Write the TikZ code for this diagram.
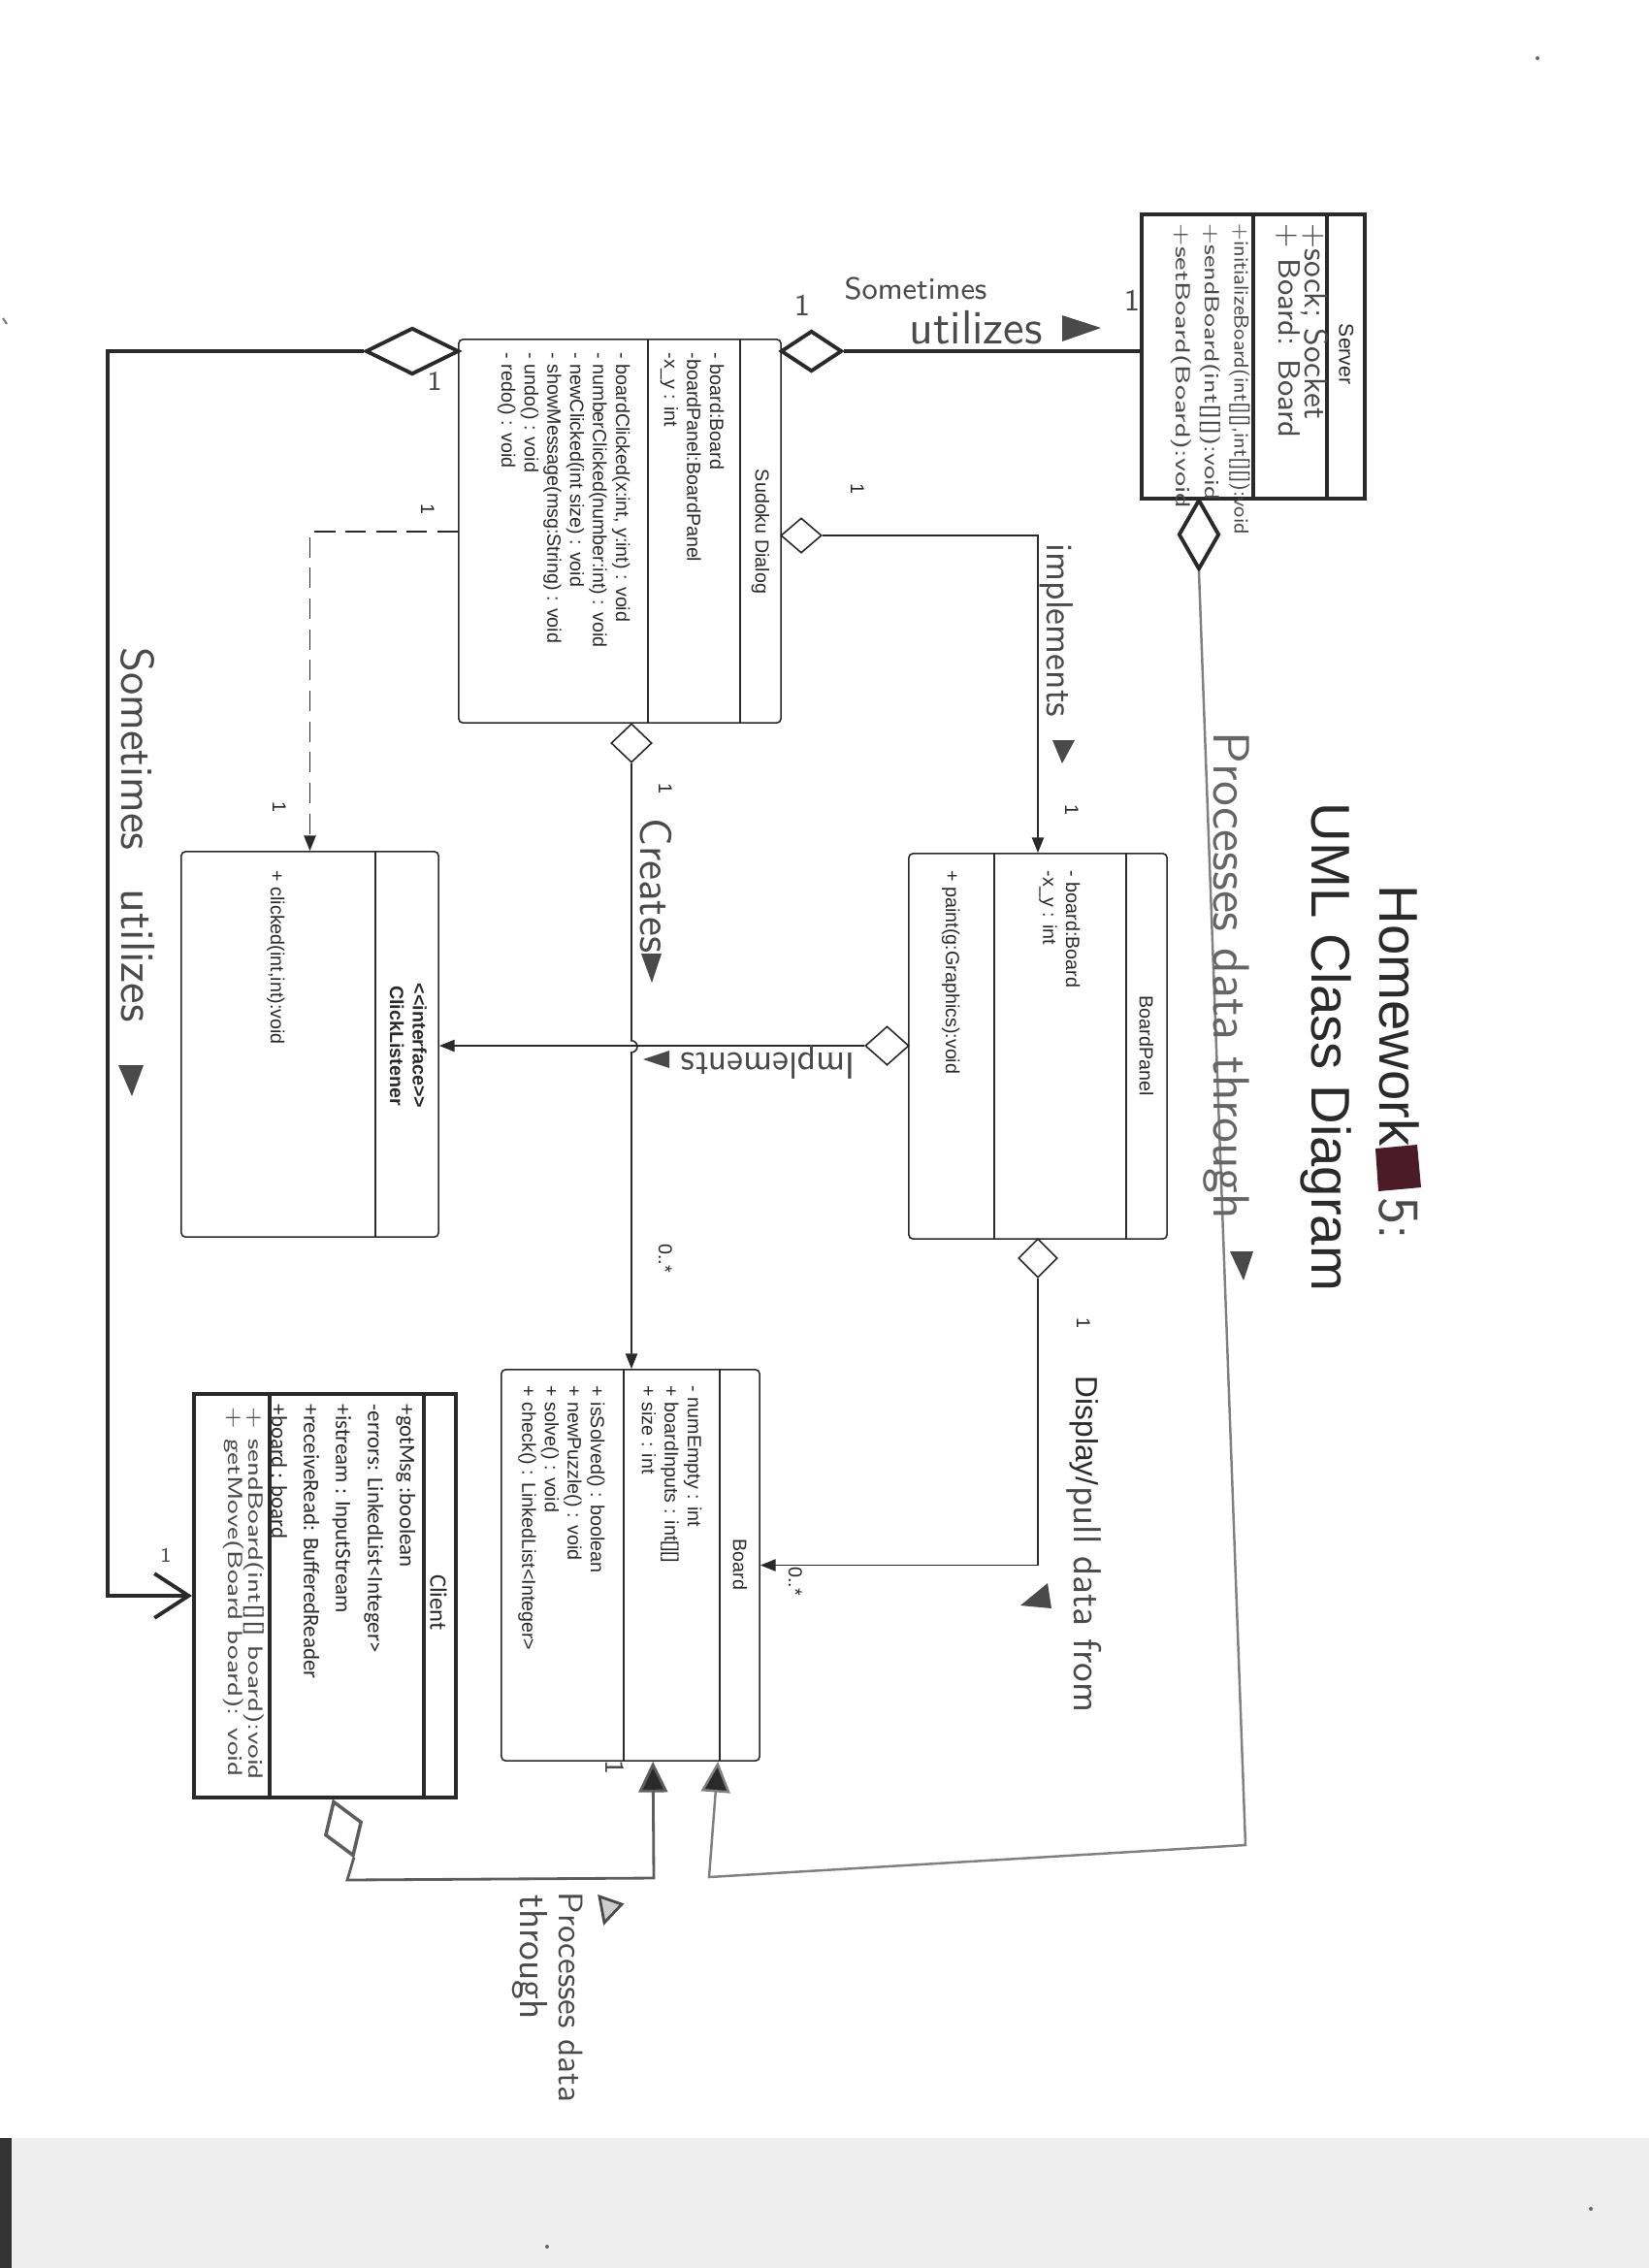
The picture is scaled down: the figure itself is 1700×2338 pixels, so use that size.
\documentclass[tikz,border=0pt]{standalone}
\usepackage{fontspec}
\usepackage{graphicx}
\newfontfamily\myarial{Liberation Sans}
\newfontfamily\mycal{Carlito}
\usetikzlibrary{arrows.meta,shapes.geometric,calc}
\definecolor{ink}{HTML}{2A2A2A}
\definecolor{pencil}{HTML}{4A4A4A}
\definecolor{lpencil}{HTML}{808080}
\definecolor{mpencil}{HTML}{5E5E5E}
\definecolor{scan}{HTML}{EEEEEE}
\definecolor{scrib}{HTML}{4A1C28}
\newcommand\hwsize[1]{\sffamily\fontsize{#1}{#1}\selectfont}
\newcommand\ptsize{\myarial\fontsize{5.6}{6.7}\selectfont}
\newcommand\calsize{\mycal\fontsize{6.5}{9.4}\selectfont}
\begin{document}
\begin{tikzpicture}[x=0.01cm,y=-0.01cm,
  clsbox/.style={draw=ink,line width=0.45pt,rounded corners=1.2pt,inner sep=0pt,fill=white},
  hbox/.style={draw=ink,line width=1.1pt,inner sep=0pt,fill=white},
  ptxt/.style={rotate=-90,inner sep=0pt,text=ink,font=\ptsize,align=left},
  ctxt/.style={rotate=-90,inner sep=0pt,text=ink,font=\calsize,align=left},
  hw/.style={inner sep=0pt,text=pencil},
  conn/.style={draw=ink,line width=0.45pt},
  parrow/.style={-{Triangle[length=4.5pt,width=3.5pt]}},
  hconn/.style={draw=ink,line width=1.1pt},
  pconn/.style={draw=lpencil,line width=0.7pt},
  pconntwo/.style={draw=mpencil,line width=0.8pt},
  bigarrow/.style={-{Triangle[length=9pt,width=8.5pt,fill=ink]}},
  dia/.style={diamond,draw=ink,fill=white,inner sep=0pt,line width=0.45pt},
  mult/.style={rotate=-90,inner sep=0pt,text=ink,font=\ptsize}
]
\useasboundingbox (0,0) rectangle (1700,2338);
\fill[white] (0,0) rectangle (1700,2338);
% scanner area
\fill[scan] (0,2204) rectangle (1700,2338);
\fill[black!80] (0,2204) rectangle (12,2338);
\fill[black!60] (1585,60) circle (2);
\fill[black!60] (1640,2277) circle (2);
\fill[black!60] (564,2316) circle (2);
\draw[black!50,line width=0.6pt] (3,328) -- (7,334);

% ---------- title ----------
\node[rotate=-90,inner sep=0pt,anchor=base west,font=\myarial\fontsize{16}{18}\selectfont,text=ink] (t1) at (1422,912) {Homework};
\fill[scrib] (1418,1184) -- (1461,1180) -- (1465,1224) -- (1421,1228) -- cycle;
\node[hw,rotate=-90,anchor=west,font=\hwsize{17}] (t3) at (1442,1234) {5:};
\node[rotate=-90,inner sep=0pt,anchor=base west,font=\myarial\fontsize{16}{18}\selectfont,text=ink] (t2) at (1352,827) {UML Class Diagram};

% ---------- class boxes ----------
\node[hbox,minimum width=2.30cm,minimum height=2.93cm] (srv) at (1292,367.5) {};
\draw[ink,line width=1.1pt] (1368,221) -- (1368,514) (1292,221) -- (1292,514);
\node[clsbox,minimum width=3.32cm,minimum height=3.95cm] (sd) at (639,547.5) {};
\draw[conn] (763,350) -- (763,745) (668,350) -- (668,745);
\node[clsbox,minimum width=2.66cm,minimum height=3.97cm] (bp) at (1070,1078.5) {};
\draw[conn] (1161,880) -- (1161,1277) (1025,880) -- (1025,1277);
\node[clsbox,minimum width=2.65cm,minimum height=3.97cm] (cl) at (319.5,1076.5) {};
\draw[conn] (387,878) -- (387,1275);
\node[clsbox,minimum width=2.66cm,minimum height=4.03cm] (board) at (650,1613.5) {};
\draw[conn] (742,1412) -- (742,1815) (643,1412) -- (643,1815);
\node[hbox,minimum width=2.70cm,minimum height=4.16cm] (client) at (335,1645) {};
\draw[ink,line width=1.1pt] (437,1437) -- (437,1853) (278,1437) -- (278,1853);

% ---------- class texts ----------
\node[ptxt,font=\myarial\fontsize{6}{7}\selectfont] (srN) at (1388,365) {Server};
\node[hw,rotate=-90,anchor=west,font=\hwsize{9.5}] (srA1) at (1355,230) {+sock; Socket};
\node[hw,rotate=-90,anchor=west,font=\hwsize{9}] (srA2) at (1328,230) {+ Board: Board};
\node[hw,rotate=-90,anchor=west,font=\hwsize{6}] (srM1) at (1278,230) {+initializeBoard(int[][],int[][]):void};
\node[hw,rotate=-90,anchor=west,font=\hwsize{6}] (srM2) at (1248,230) {\scalebox{1.25}[1]{+sendBoard(int[][]):void}};
\node[hw,rotate=-90,anchor=west,font=\hwsize{6}] (srM3) at (1218,230) {\scalebox{1.35}[1]{+setBoard(Board):void}};

\node[ptxt] (sdN) at (784,548) {Sudoku Dialog};
\node[ptxt,anchor=north west] (sdA) at (747,363) {- board:Board\\-boardPanel:BoardPanel\\-x\_y : int};
\node[ptxt,anchor=north west] (sdM) at (650,363) {- boardClicked(x:int, y:int) : void\\- numberClicked(number:int) : void\\- newClicked(int size) : void\\- showMessage(msg:String) : void\\- undo() : void\\- redo() : void};

\node[ptxt] (bpN) at (1182,1078) {BoardPanel};
\node[ptxt,anchor=north west] (bpA) at (1114,897) {- board:Board\\-x\_y : int};
\node[ptxt,anchor=north west] (bpM) at (990,897) {+ paint(g:Graphics):void};

\node[ptxt,align=center,font=\ptsize\bfseries] (clN) at (421,1078) {\textless\textless interface\textgreater\textgreater\\ClickListener};
\node[ptxt,anchor=north west] (clM) at (294,897) {+ clicked(int,int):void};

\node[ptxt] (bdN) at (763,1613) {Board};
\node[ptxt,anchor=north west] (bdA) at (724,1428) {- numEmpty : int\\+ boardInputs : int[][]\\+ size : int};
\node[ptxt,anchor=north west] (bdM) at (624,1428) {+ isSolved() : boolean\\+ newPuzzle() : void\\+ solve() : void\\+ check() : LinkedList<Integer>};

\node[ctxt,font=\mycal\fontsize{7}{8}\selectfont] (ctN) at (452,1652) {Client};
\node[ctxt,anchor=north west] (ctA) at (429,1447) {+gotMsg :boolean\\-errors: LinkedList<Integer>\\+istream : InputStream\\+receiveRead: BufferedReader\\+board : board};
\node[hw,rotate=-90,anchor=west,font=\hwsize{6}] (ctM1) at (262,1450) {\scalebox{1.3}[1]{+ sendBoard(int[][] board):void}};
\node[hw,rotate=-90,anchor=west,font=\hwsize{6}] (ctM2) at (241,1450) {\scalebox{1.3}[1]{+ getMove(Board board): void}};

% ---------- diamonds ----------
\node[dia,line width=1.1pt,minimum width=0.63cm,minimum height=0.42cm] (dss) at (836.5,362) {};
\node[dia,line width=1.1pt,minimum width=0.96cm,minimum height=0.48cm] (dsl) at (425,362) {};
\node[dia,minimum width=0.42cm,minimum height=0.36cm] (dsbp) at (826,552) {};
\node[dia,minimum width=0.42cm,minimum height=0.40cm] (dsb) at (651,766) {};
\node[dia,minimum width=0.45cm,minimum height=0.40cm] (dbc) at (914.5,1078) {};
\node[dia,minimum width=0.40cm,minimum height=0.40cm] (dbb) at (1070,1297) {};
\node[dia,line width=1.1pt,minimum width=0.42cm,minimum height=0.72cm] (dsv) at (1236,551) {};
\node[dia,draw=mpencil,line width=1pt,rotate=20,minimum width=0.40cm,minimum height=0.60cm] (dcl) at (354,1885) {};

% ---------- helper coordinates ----------
\coordinate (lcorner) at (111,1000);
\path (sd.north west) ++(0,199) coordinate (dstart);
\path (board.south west) ++(157,0) coordinate (bin1);
\path (board.south west) ++(224,0) coordinate (bin2);
\coordinate (rc1) at (1284,1902);
\coordinate (rc2) at (731,1935);
\coordinate (lc1) at (358,1938);
\coordinate (lc2) at (674,1936);

% ---------- connectors ----------
\draw[hconn] (dss.east) -- (dss.east -| srv.west);
\draw[hconn,-{Straight Barb[length=10pt,width=13pt]}] (dsl.west) -| (lcorner) |- (client.west);
\draw[conn,parrow] (dsbp.east) -| (bp.north);
\draw[conn,parrow] (dsb.south) -- ++(0,286) arc[start angle=-90,end angle=90,radius=6] -- (dsb.south |- board.north);
\draw[conn,parrow] (dbc.west) -- (dbc.west -| cl.east);
\draw[conn,parrow] (dbb.south) |- (board.east);
\draw[conn,dash pattern=on 6pt off 3pt,parrow] (dstart) -| (cl.north);
\draw[pconn,bigarrow] (dsv.south) -- (rc1) -- (rc2) -- (bin2);
\draw[pconntwo,bigarrow] (dcl.south) -- (lc1) -- (lc2) -- (bin1);

% ---------- multiplicities ----------
\node[mult] (m1) at (884,504) {1};
\node[mult] (m2) at (1105,835) {1};
\node[mult] (m3) at (441,525) {1};
\node[mult] (m4) at (288,832) {1};
\node[mult] (m5) at (686,813) {1};
\node[mult] (m6) at (686,1297) {0..*};
\node[mult] (m7) at (1117,1364) {1};
\node[mult] (m8) at (820,1630) {0..*};
\node[hw,font=\hwsize{9}] (h1) at (827,315) {1};
\node[hw,font=\hwsize{9}] (h2) at (1167,310) {1};
\node[hw,font=\hwsize{8}] (h3) at (448,393) {1};
\node[hw,font=\hwsize{6}] (h4) at (171,1603) {1};
\node[hw,rotate=-90,font=\hwsize{8}] (h5) at (634,1822) {1};

% ---------- handwritten labels ----------
\node[hw,font=\hwsize{9}] (l1) at (944,298) {Sometimes};
\node[hw,font=\hwsize{14}] (l2) at (1006,338) {utilizes};
\fill[pencil] (1095,325) -- (1135,338) -- (1095,352) -- cycle;

\node[hw,rotate=-90,font=\hwsize{13.5}] (l3) at (142,772) {Sometimes};
\node[hw,rotate=-90,font=\hwsize{14}] (l4) at (142,985) {utilizes};
\fill[pencil] (122,1098) -- (148,1098) -- (136,1130) -- cycle;

\node[hw,rotate=-90,font=\hwsize{11}] (l5) at (1089,650) {implements};
\fill[pencil] (1085,763) -- (1108,763) -- (1095,787) -- cycle;

\node[hw,rotate=-90,font=\hwsize{13}] (l6) at (676,913) {Creates};
\fill[pencil] (661,983) -- (682,983) -- (672,1013) -- cycle;

\node[hw,rotate=180,font=\hwsize{11}] (l7) at (792,1095) {Implements};
\fill[pencil] (690,1083) -- (690,1101) -- (663,1092) -- cycle;

\node[hw,rotate=-90,font=\hwsize{15},text=pencil!85] (l8) at (1264,1006) {Processes data through};
\fill[pencil] (1268,1290) -- (1292,1290) -- (1282,1320) -- cycle;

\node[rotate=-90,inner sep=0pt,anchor=west,text=ink,font=\myarial\fontsize{9}{10}\selectfont] (l9) at (1118,1418) {Display/};
\node[hw,rotate=-90,anchor=west,font=\hwsize{11.4}] (l10) at (l9.east) {pull data from};
\fill[pencil] (1080,1632) -- (1084,1658) -- (1052,1655) -- cycle;

\node[hw,rotate=-90,anchor=west,font=\hwsize{10}] (l11) at (589,1950) {Processes data};
\node[hw,rotate=-90,anchor=west,font=\hwsize{11.5}] (l12) at (546,1953) {through};
\draw[pencil,fill=lpencil!40,line width=0.8pt] (618,1955) -- (623,1982) -- (641,1963) -- cycle;
\end{tikzpicture}
\end{document}
